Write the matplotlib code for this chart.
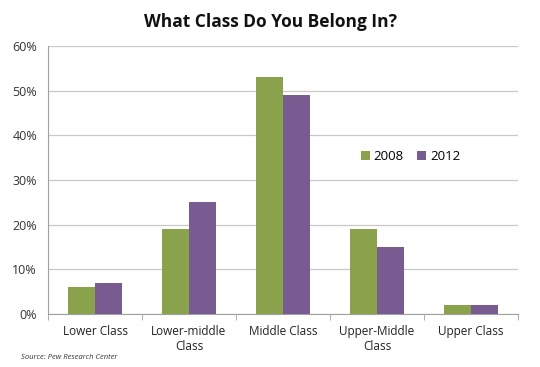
import numpy as np
import matplotlib
matplotlib.use('Agg')
import matplotlib.pyplot as plt

plt.rcParams['font.family'] = ['Open Sans', 'DejaVu Sans']

categories = ['Lower Class', 'Lower-middle\nClass', 'Middle Class', 'Upper-Middle\nClass', 'Upper Class']
share_2008 = [6, 19, 53, 19, 2]
share_2012 = [7, 25, 49, 15, 2]

fig = plt.figure(figsize=(5.4, 3.67), dpi=100)
ax = fig.add_axes([0.089, 0.144, 0.870, 0.731])

x = np.arange(len(categories))
w = 0.285
ax.bar(x - w/2, share_2008, w, color='#8aa24b', label='2008', zorder=3)
ax.bar(x + w/2, share_2012, w, color='#775b91', label='2012', zorder=3)

ax.set_xlim(-0.5, len(categories) - 0.5)
ax.set_ylim(0, 60)
ax.set_yticks(range(0, 61, 10))
ax.set_yticklabels(['%d%%' % v for v in range(0, 61, 10)], fontsize=9, color='#333333')
ax.yaxis.grid(True, color='#c8c8c8', linewidth=0.9, zorder=0)
ax.tick_params(axis='y', length=0, pad=8)

ax.set_xticks(x)
ax.set_xticklabels(categories, fontsize=8.5, color='#222222')
ax.set_xticks(np.arange(-0.5, len(categories)), minor=True)
ax.tick_params(axis='x', which='major', length=0, pad=8)
ax.tick_params(axis='x', which='minor', length=4, color='#a0a0a0', direction='out')

for s in ['top', 'right']:
    ax.spines[s].set_visible(False)
ax.spines['left'].set_color('#a0a0a0')
ax.spines['bottom'].set_color('#a0a0a0')

ax.legend(loc='center left', bbox_to_anchor=(0.64, 0.586), ncol=2, frameon=False,
          fontsize=9.5, handlelength=0.7, handleheight=0.7, handletextpad=0.3, columnspacing=1.0)

fig.text(0.5, 0.915, 'What Class Do You Belong In?', ha='center', va='bottom',
         fontsize=12.5, fontweight='bold', color='#111111')
fig.text(0.038, 0.022, 'Source: Pew Research Center', fontsize=5.5, style='italic', color='#333333')

plt.savefig('out.png', dpi=100)
